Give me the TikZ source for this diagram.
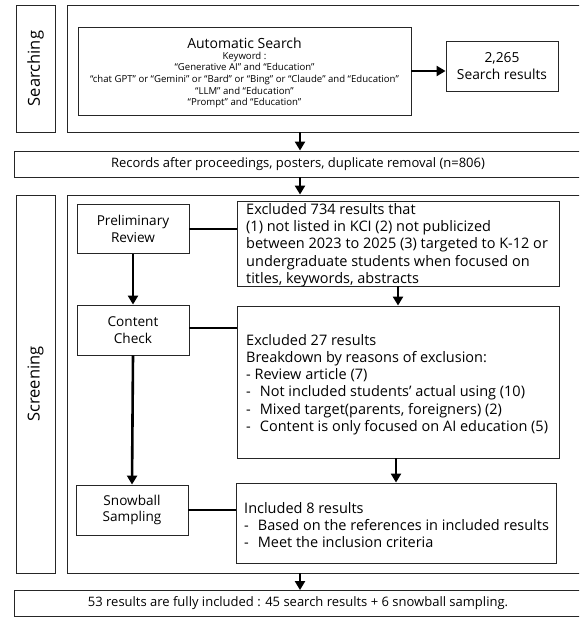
\documentclass[tikz,border=0pt]{standalone}
\usepackage{fontspec}
\setmainfont{Open Sans}
\usetikzlibrary{arrows.meta,calc}
\tikzset{
  box/.style={draw=black!85, line width=0.9pt, fill=white, inner sep=0pt},
  arr/.style={line width=2.6pt, -{Triangle[length=9pt,width=10pt]}},
  link/.style={line width=1.5pt},
  txt/.style={font=\fontsize{14.5}{17.3}\selectfont},
  lbl/.style={font=\fontsize{13.6}{16.8}\selectfont},
}
\begin{document}
\begin{tikzpicture}[x=1pt,y=-1pt]
\useasboundingbox (0,0) rectangle (579,617);
\clip (0,0) rectangle (579,617);
% Searching phase
\node[box, minimum width=39pt, minimum height=127pt] (slab) at (35.5,68.5) {};
\node[rotate=90, font=\fontsize{16.5}{18}\selectfont] (slabt) at (slab.center) {Searching};
\node[box, minimum width=515pt, minimum height=127pt] (sout) at (324.5,68.5) {};
\node[box, minimum width=333pt, minimum height=88pt] (auto) at (244.5,71) {};
\node[font=\fontsize{14}{16}\selectfont, inner sep=0pt] (autot) at (244.5,43) {Automatic Search};
\node[align=center, inner sep=0pt, font=\fontsize{9.6}{11.6}\selectfont] (kw) at (244.5,80)
  {Keyword :\\
   ``Generative AI'' and ``Education''\\
   ``chat GPT'' or ``Gemini'' or ``Bard'' or ``Bing'' or ``Claude'' and ``Education''\\
   ``LLM'' and ``Education''\\
   ``Prompt'' and ``Education''};
\node[box, minimum width=112pt, minimum height=50pt, align=center,
  font=\fontsize{13.8}{17}\selectfont] (res) at (502,66) {2,265\\Search results};
% Records
\node[box, minimum width=568pt, minimum height=26pt, font=\fontsize{13}{15}\selectfont]
  (rec) at (298,164) {Records after proceedings, posters, duplicate removal (n=806)};
% Screening phase
\node[box, minimum width=39pt, minimum height=378pt] (clab) at (35.5,384) {};
\node[rotate=90, font=\fontsize{16.5}{18}\selectfont] (clabt) at (clab.center) {Screening};
\node[box, minimum width=515pt, minimum height=378pt] (cout) at (324.5,384) {};
\node[box, minimum width=112pt, minimum height=49pt, align=center, lbl] (pre) at (133,229)
  {Preliminary\\Review};
\node[box, minimum width=322pt, minimum height=85pt] (ex1) at (398,243.5) {};
\node[txt, anchor=north west, align=left, inner sep=0pt] (ex1t) at (246,203)
  {Excluded 734 results that\\
   (1) not listed in KCI (2) not publicized\\
   between 2023 to 2025 (3) targeted to K-12 or\\
   undergraduate students when focused on\\
   titles, keywords, abstracts};
\node[box, minimum width=112pt, minimum height=50pt, align=center, lbl] (con) at (133,330)
  {Content\\Check};
\node[box, minimum width=322pt, minimum height=152pt] (ex2) at (398,382) {};
\node[txt, anchor=west, align=left, inner sep=0pt] (ex2t) at (246,384.5)
  {Excluded 27 results\\
   Breakdown by reasons of exclusion:\\
   - Review article (7)\\
   -\hspace{9pt}Not included students’ actual using (10)\\
   -\hspace{9pt}Mixed target(parents, foreigners) (2)\\
   -\hspace{9pt}Content is only focused on AI education (5)};
\node[box, minimum width=112pt, minimum height=50pt, align=center, lbl] (snow) at (132,510)
  {Snowball\\Sampling};
\node[box, minimum width=320pt, minimum height=80pt] (inc) at (396,523) {};
\node[txt, anchor=west, align=left, inner sep=0pt] (inct) at (244,525)
  {Included 8 results\\
   -\hspace{9pt}Based on the references in included results\\
   -\hspace{9pt}Meet the inclusion criteria};
% Final
\node[box, minimum width=568pt, minimum height=26pt, font=\fontsize{13}{15}\selectfont]
  (fin) at (298,603.5) {53 results are fully included : 45 search results + 6 snowball sampling.};
% connectors
\draw[arr] (auto.east) -- (res.west |- auto.east);
\draw[arr] ($(rec.north |- sout.south)+(2,0)$) -- ($(rec.north)+(2,0)$);
\draw[arr] ($(rec.south)+(2,0)$) -- ($(rec.south |- cout.north)+(2,0)$);
\draw[arr] (pre.south) -- (con.north);
\draw[arr] (ex1.south) -- (ex2.north);
\draw[arr] (con.south) -- (snow.north);
\draw[arr] (ex2.south -| inc.north) -- (inc.north);
\draw[arr] ($(fin.north |- cout.south)+(2,0)$) -- ($(fin.north)+(2,0)$);
\draw[link] (pre.east) -- (pre.east -| ex1.west);
\draw[link] (con.east |- 0,328) -- (ex2.west |- 0,328);
\draw[link] (snow.east) -- (snow.east -| inc.west);
\end{tikzpicture}
\end{document}
